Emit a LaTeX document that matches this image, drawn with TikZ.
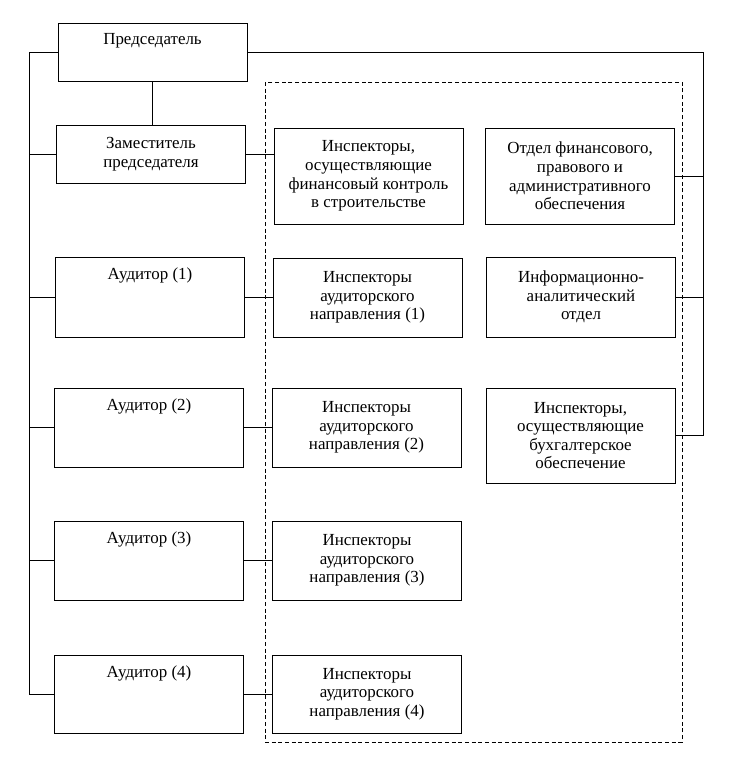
\documentclass[tikz,border=0pt]{standalone}
\usepackage{fontspec}
\setmainfont{Liberation Serif}
\usepackage{tikz}
\usetikzlibrary{positioning}
\tikzset{
  unitbox/.style  = {draw, line width=0.75pt, minimum width=141.75pt,
                     minimum height=#1*0.75pt, align=center, inner sep=0pt,
                     font=\fontsize{12.7}{13.9}\selectfont},
  headbox/.style  = {unitbox=#1},
  toptext/.style  = {anchor=center, yshift=-13.9pt, font=\fontsize{12.7}{13.9}\selectfont},
  link/.style     = {line width=0.6pt},
  grpframe/.style = {line width=0.7pt, dash pattern=on 3pt off 2pt}
}

\begin{document}
\begin{tikzpicture}[x=0.75pt, y=-0.75pt]
  \useasboundingbox (0,0) rectangle (730,765);

  % Left column: management and auditors
  \node[headbox=58, label={[toptext]north:Председатель}] (chair) at (152.5,52) {};
  \node[unitbox=58] (deputy) at (151,154) {Заместитель\\председателя};
  \node[headbox=80, label={[toptext]north:Аудитор (1)}] (aud1) at (150,297) {};
  \node[headbox=79, label={[toptext]north:Аудитор (2)}] (aud2) at (149,427.5) {};
  \node[headbox=79, label={[toptext]north:Аудитор (3)}] (aud3) at (149,560.5) {};
  \node[headbox=78, label={[toptext]north:Аудитор (4)}] (aud4) at (149,694) {};

  % Middle column: inspectors
  \node[unitbox=96] (insp0) at (368.5,176)
    {Инспекторы,\\осуществляющие\\финансовый контроль\\в строительстве};
  \node[unitbox=79] (insp1) at (367.5,297.5) {Инспекторы\\аудиторского\\направления (1)};
  \node[unitbox=79] (insp2) at (366.5,427.5) {Инспекторы\\аудиторского\\направления (2)};
  \node[unitbox=79] (insp3) at (367,560.5) {Инспекторы\\аудиторского\\направления (3)};
  \node[unitbox=78] (insp4) at (367,694) {Инспекторы\\аудиторского\\направления (4)};

  % Right column: departments
  \node[unitbox=96] (fin) at (580,176)
    {Отдел финансового,\\правового и\\административного\\обеспечения};
  \node[unitbox=80] (info) at (581,297) {Информационно-\\аналитический\\отдел};
  \node[unitbox=95] (acct) at (580.5,435.5)
    {Инспекторы,\\осуществляющие\\бухгалтерское\\обеспечение};

  % Dashed frame round the staff
  \draw[grpframe] (265,82) rectangle (682,742);

  % Bus lines
  \coordinate (lbus) at (29,52);
  \coordinate (rbus) at (703,52);

  \draw[link] (chair.south) -- (chair.south |- deputy.north);
  \draw[link] (chair.west) -- (chair.west -| lbus) -- (aud4.west -| lbus) -- (aud4.west);
  \foreach \n in {deputy, aud1, aud2, aud3}
    \draw[link] (\n.west) -- (\n.west -| lbus);

  \draw[link] (chair.east) -- (chair.east -| rbus) -- (acct.east -| rbus) -- (acct.east);
  \foreach \n in {fin, info}
    \draw[link] (\n.east) -- (\n.east -| rbus);

  \draw[link] (deputy.east) -- (deputy.east -| insp0.west);
  \foreach \i in {1,...,4}
    \draw[link] (aud\i.east) -- (aud\i.east -| insp\i.west);
\end{tikzpicture}
\end{document}
